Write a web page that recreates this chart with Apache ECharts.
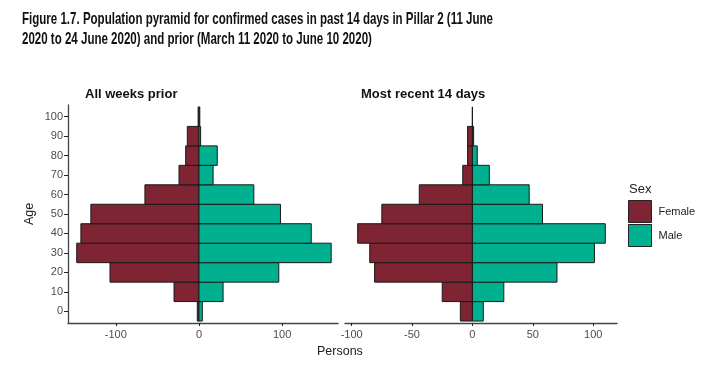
<!DOCTYPE html>
<html>
<head>
<meta charset="utf-8">
<script src="https://cdn.jsdelivr.net/npm/echarts@6/dist/echarts.min.js"></script>
<style>
  html, body { margin: 0; padding: 0; background: #fff; }
  #chart { width: 708px; height: 377px; }
</style>
</head>
<body>
<div id="chart"></div>
<script>
// age groups (bar centres) and counts
const ages = [0, 10, 20, 30, 40, 50, 60, 70, 80, 90, 100];
const priorFemale = [-2, -30, -107, -147, -142, -130, -65, -24, -16, -14, -1];
const priorMale = [4, 29, 96, 159, 135, 98, 66, 17, 22, 2, 1];
const recentFemale = [-10, -25, -81, -85, -95, -75, -44, -8, -4, -4, 0];
const recentMale = [9, 26, 70, 101, 110, 58, 47, 14, 4, 1, 0];

const yTicks = [0, 10, 20, 30, 40, 50, 60, 70, 80, 90, 100];
const priorTicks = [-100, 0, 100];
const recentTicks = [-100, -50, 0, 50, 100];

const titleLines = [
	'Figure 1.7. Population pyramid for confirmed cases in past 14 days in Pillar 2 (11 June',
	'2020 to 24 June 2020) and prior (March 11 2020 to June 10 2020)'
];

const femaleColor = '#7e2432';
const maleColor = '#00b08f';
const tickColor = '#4d4d4d';
const lineColor = '#444';

const chart = echarts.init(document.getElementById('chart'));

// the figure title is set in a narrow bold face; squeeze Liberation Sans to match
const titleFont = 'bold 17px "Liberation Sans"';
const ctx = document.createElement('canvas').getContext('2d');
ctx.font = titleFont;
const titleScale = 471 / ctx.measureText(titleLines[0]).width;

// each bar covers its 10-year band, centred on the age tick
function renderBar(params, api) {
	const age = api.value(0);
	const v = api.value(1);
	const p0 = api.coord([0, age + 5]);
	const p1 = api.coord([v, age - 5]);
	return {
		type: 'rect',
		shape: {
			x: Math.min(p0[0], p1[0]),
			y: p0[1],
			width: Math.max(Math.abs(p1[0] - p0[0]), 0.01),
			height: p1[1] - p0[1]
		},
		style: { fill: api.visual('color'), stroke: '#1a1a1a', lineWidth: 1 }
	};
}

const pairs = arr => ages.map((a, i) => [a, arr[i]]);

function xAxisFor(grid, min, max, ticks) {
	return {
		type: 'value',
		gridIndex: grid,
		min: min,
		max: max,
		axisLine: { show: true, onZero: false, lineStyle: { color: lineColor, width: 1.3 } },
		axisTick: { show: true, length: 3, lineStyle: { color: '#222' }, customValues: ticks },
		axisLabel: { color: tickColor, fontSize: 11, fontFamily: 'Liberation Sans', margin: 6, customValues: ticks },
		splitLine: { show: false }
	};
}

function yAxisFor(grid, showAxis) {
	return {
		type: 'value',
		gridIndex: grid,
		min: -6,
		max: 106,
		axisLine: { show: showAxis, onZero: false, lineStyle: { color: lineColor, width: 1.3 } },
		axisTick: { show: showAxis, length: 4, lineStyle: { color: '#222' }, customValues: yTicks },
		axisLabel: { show: showAxis, color: tickColor, fontSize: 11, fontFamily: 'Liberation Sans', margin: 5, customValues: yTicks },
		splitLine: { show: false }
	};
}

function barSeries(name, grid, data, color) {
	return {
		name: name,
		type: 'custom',
		xAxisIndex: grid,
		yAxisIndex: grid,
		renderItem: renderBar,
		itemStyle: { color: color },
		encode: { x: 1, y: 0 },
		data: pairs(data)
	};
}

const option = {
	animation: false,
	textStyle: { fontFamily: 'Liberation Sans' },
	title: [
		{
			text: 'All weeks prior',
			left: 85,
			top: 88,
			padding: 0,
			textStyle: { fontWeight: 'bold', fontSize: 13, color: '#111' }
		},
		{
			text: 'Most recent 14 days',
			left: 361,
			top: 88,
			padding: 0,
			textStyle: { fontWeight: 'bold', fontSize: 13, color: '#111' }
		},
		{
			text: 'Sex',
			left: 629,
			top: 183,
			padding: 0,
			textStyle: { fontWeight: 'normal', fontSize: 13, color: '#222' }
		},
		{
			text: 'Persons',
			left: 317,
			top: 345,
			padding: 0,
			textStyle: { fontWeight: 'normal', fontSize: 12.5, color: '#222' }
		}
	],
	graphic: [
		{
			type: 'text',
			x: 22,
			y: 19,
			scaleX: titleScale,
			style: { text: titleLines[0], font: titleFont, fill: '#111', textVerticalAlign: 'middle' }
		},
		{
			type: 'text',
			x: 22,
			y: 39,
			scaleX: titleScale,
			style: { text: titleLines[1], font: titleFont, fill: '#111', textVerticalAlign: 'middle' }
		},
		{
			type: 'text',
			x: 30,
			y: 214,
			rotation: Math.PI / 2,
			style: { text: 'Age', font: '12.5px "Liberation Sans"', fill: '#222', textAlign: 'center', textVerticalAlign: 'middle' }
		}
	],
	legend: {
		left: 628,
		top: 200,
		padding: 0,
		orient: 'vertical',
		itemWidth: 23,
		itemHeight: 22,
		itemGap: 1,
		icon: 'rect',
		data: ['Female', 'Male'],
		itemStyle: { borderColor: '#222', borderWidth: 1 },
		textStyle: { fontSize: 11, color: '#222', padding: [0, 0, 0, 2] }
	},
	grid: [
		{ left: 68, top: 105, width: 270, height: 218 },
		{ left: 345, top: 105, width: 272, height: 218 }
	],
	xAxis: [
		xAxisFor(0, -157.5, 167.2, priorTicks),
		xAxisFor(1, -105.5, 119.7, recentTicks)
	],
	yAxis: [yAxisFor(0, true), yAxisFor(1, false)],
	series: [
		barSeries('Female', 0, priorFemale, femaleColor),
		barSeries('Male', 0, priorMale, maleColor),
		barSeries('Female', 1, recentFemale, femaleColor),
		barSeries('Male', 1, recentMale, maleColor)
	]
};

chart.setOption(option);
</script>
</body>
</html>
